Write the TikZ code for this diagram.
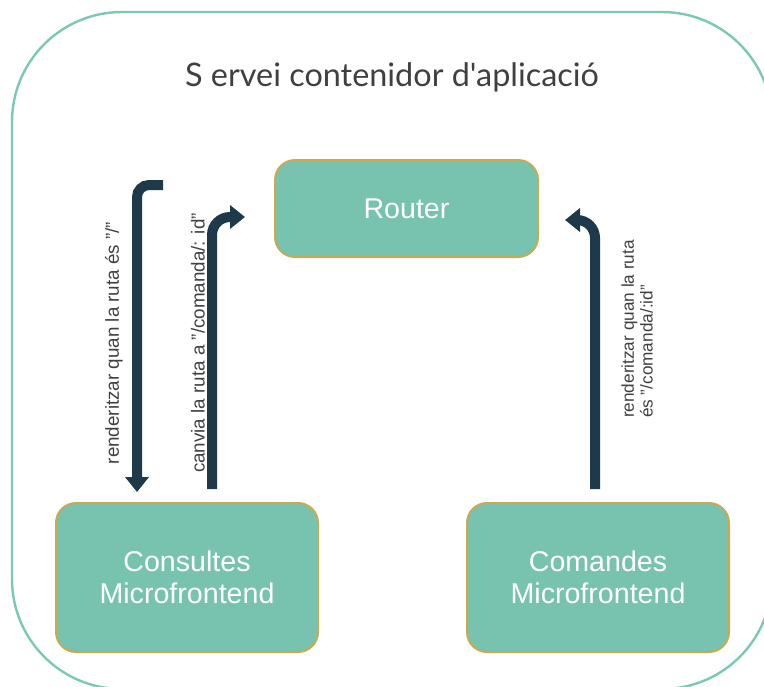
\documentclass[tikz,border=0pt]{standalone}
\usepackage{fontspec}
\setmainfont{Liberation Sans}
\newfontfamily\titlefont{Lato}
\usepackage{xcolor}
\usetikzlibrary{positioning,arrows.meta}

\definecolor{boxfill}{HTML}{77C3B0}
\definecolor{boxline}{HTML}{C8AA55}
\definecolor{frameline}{HTML}{7CC8B4}
\definecolor{arrowcol}{HTML}{1E3A4A}
\definecolor{labelcol}{HTML}{404040}

\begin{document}
\begin{tikzpicture}[
  x=0.5pt, y=-0.5pt,
  box/.style={rectangle, draw=boxline, fill=boxfill, line width=1pt,
    rounded corners=10pt, align=center, text=white,
    font=\fontsize{14.3}{16}\selectfont},
  flow/.style={draw=arrowcol, line width=5pt,
    -{Triangle[width=11.5pt, length=7.5pt]}},
  lbl/.style={rotate=90, text=labelcol, align=left,
    font=\fontsize{9.4}{9.8}\selectfont}
]
\useasboundingbox (0,0) rectangle (764,686);

% ── Container ──
\draw[frameline, line width=1.2pt, rounded corners=55pt]
  (12,12) rectangle (772,689);
\node[font=\titlefont\fontsize{16.2}{18}\selectfont, text=labelcol]
  (title) at (392,77) {S ervei contenidor d'aplicació};

% ── Nodes ──
\node[box, minimum width=131.5pt, minimum height=48.5pt]
  (router) at (406.5,208.5) {Router};
\node[box, minimum width=131pt, minimum height=74.5pt]
  (cons) at (187,577.5) {Consultes\\Microfrontend};
\node[box, minimum width=131pt, minimum height=74.5pt]
  (coma) at (598,577.5) {Comandes\\Microfrontend};

% ── Arrow end points ──
\coordinate (a1s) at (163,185);
\coordinate (a1e) at (137,492);
\coordinate (a2s) at (212,489);
\coordinate (a2e) at (245,217);
\coordinate (a3s) at (595,489);
\coordinate (a3e) at (565,220);

% ── Router → Consultes ──
\draw[flow, rounded corners=6pt] (a1s) -| (a1e);
\node[lbl] (l1) at (114,343) {renderitzar quan la ruta és "/"};

% ── Consultes → Router ──
\draw[flow, rounded corners=9pt] (a2s) |- (a2e);
\node[lbl] (l2) at (198,343) {canvia la ruta a "/comanda/: id"};

% ── Comandes → Router ──
\draw[flow, rounded corners=9pt] (a3s) |- (a3e);
\node[lbl, font=\fontsize{8.6}{9.4}\selectfont]
  (l3) at (637,329) {renderitzar quan la ruta\\és "/comanda/:id"};

\end{tikzpicture}
\end{document}
